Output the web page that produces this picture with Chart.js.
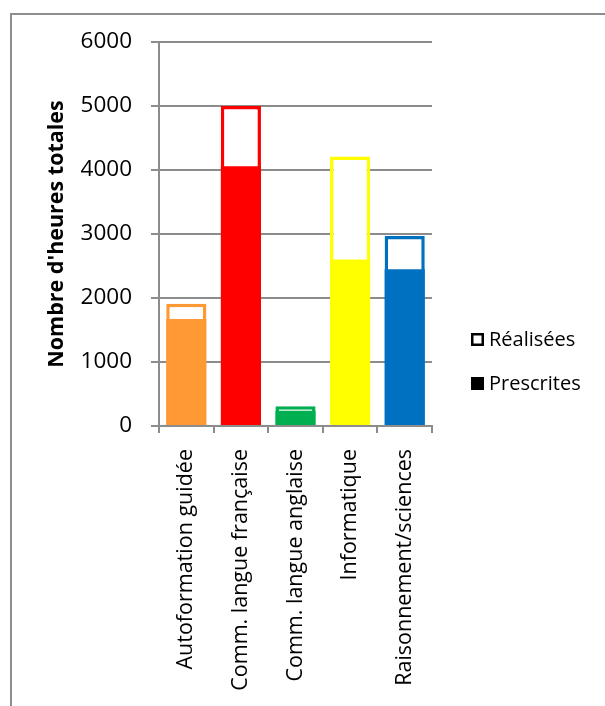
<!DOCTYPE html>
<html>
<head>
<meta charset="utf-8">
<script src="https://cdn.jsdelivr.net/npm/chart.js@4/dist/chart.umd.min.js"></script>
<style>
  html, body { margin: 0; padding: 0; background: #fff; overflow: hidden; width: 605px; height: 706px; }
  #frame { position: absolute; left: 10px; top: 13px; width: 1000px; height: 1000px; border: 2px solid #8e8e8e; box-sizing: border-box; }
  #c { position: absolute; left: 0; top: 0; }
</style>
</head>
<body>
<div id="frame"></div>
<canvas id="c" width="605" height="706"></canvas>
<script>
const categories = ["Autoformation guidée", "Comm. langue française", "Comm. langue anglaise", "Informatique", "Raisonnement/sciences"];
const realisees = [1910, 5000, 310, 4210, 2970];
const prescrites = [1670, 4060, 240, 2600, 2450];
const barColors = ["#FF9933", "#FF0000", "#00B050", "#FFFF00", "#0070C0"];
const yTicks = [0, 1000, 2000, 3000, 4000, 5000, 6000];
const legendLabels = ["Réalisées", "Prescrites"];
const yTitle = "Nombre d'heures totales";

const FONT = "'Open Sans', 'DejaVu Sans', sans-serif";
const GRID = "#8c8c8c";

const legendPlugin = {
  id: 'customLegend',
  afterDraw(chart) {
    const ctx = chart.ctx;
    const x = chart.chartArea.right + 39;
    const ys = [340, 384];
    ctx.save();
    ctx.font = "20px " + FONT;
    ctx.textBaseline = 'middle';
    ctx.textAlign = 'left';
    ctx.fillStyle = '#fff';
    ctx.fillRect(x, ys[0] - 7, 13, 13);
    ctx.strokeStyle = '#000';
    ctx.lineWidth = 2.5;
    ctx.strokeRect(x + 1.25, ys[0] - 5.75, 10.5, 10.5);
    ctx.fillStyle = '#000';
    ctx.fillText(legendLabels[0], x + 18, ys[0]);
    ctx.fillRect(x, ys[1] - 7, 13, 13);
    ctx.fillText(legendLabels[1], x + 18, ys[1]);
    ctx.restore();
  }
};

new Chart(document.getElementById('c'), {
  type: 'bar',
  data: {
    labels: categories,
    datasets: [
      {
        label: legendLabels[1],
        data: prescrites,
        backgroundColor: barColors,
        borderWidth: 0,
        grouped: false,
        order: 1
      },
      {
        label: legendLabels[0],
        data: realisees,
        backgroundColor: '#ffffff',
        borderColor: barColors,
        borderWidth: 3.5,
        borderSkipped: false,
        grouped: false,
        order: 2
      }
    ]
  },
  options: {
    responsive: false,
    animation: false,
    devicePixelRatio: 1,
    layout: { padding: { left: 0, top: 42, right: 173, bottom: 0 } },
    datasets: { bar: { barPercentage: 0.735, categoryPercentage: 1 } },
    plugins: { legend: { display: false }, tooltip: { enabled: false } },
    scales: {
      x: {
        afterFit(scale) { scale.height = 280; },
        grid: { display: true, drawOnChartArea: false, drawTicks: true, tickLength: 7, offset: true, color: GRID, lineWidth: 2 },
        border: { display: true, color: GRID, width: 2 },
        ticks: { color: '#000', font: { family: FONT, size: 21.5 }, minRotation: 90, maxRotation: 90, padding: 16, autoSkip: false }
      },
      y: {
        min: 0, max: 6000,
        afterFit(scale) { scale.width = 159; },
        afterBuildTicks(scale) { scale.ticks = yTicks.map(v => ({ value: v })); },
        grid: { color: GRID, lineWidth: 2, tickLength: 8 },
        border: { display: true, color: GRID, width: 2 },
        ticks: { color: '#000', font: { family: FONT, size: 22.5 }, padding: 19, callback: (v) => String(v) },
        title: { display: true, text: yTitle, color: '#000', font: { family: FONT, size: 21.5, weight: 'bold' }, padding: { top: 44, bottom: 0 } }
      }
    }
  },
  plugins: [legendPlugin]
});
</script>
</body>
</html>
